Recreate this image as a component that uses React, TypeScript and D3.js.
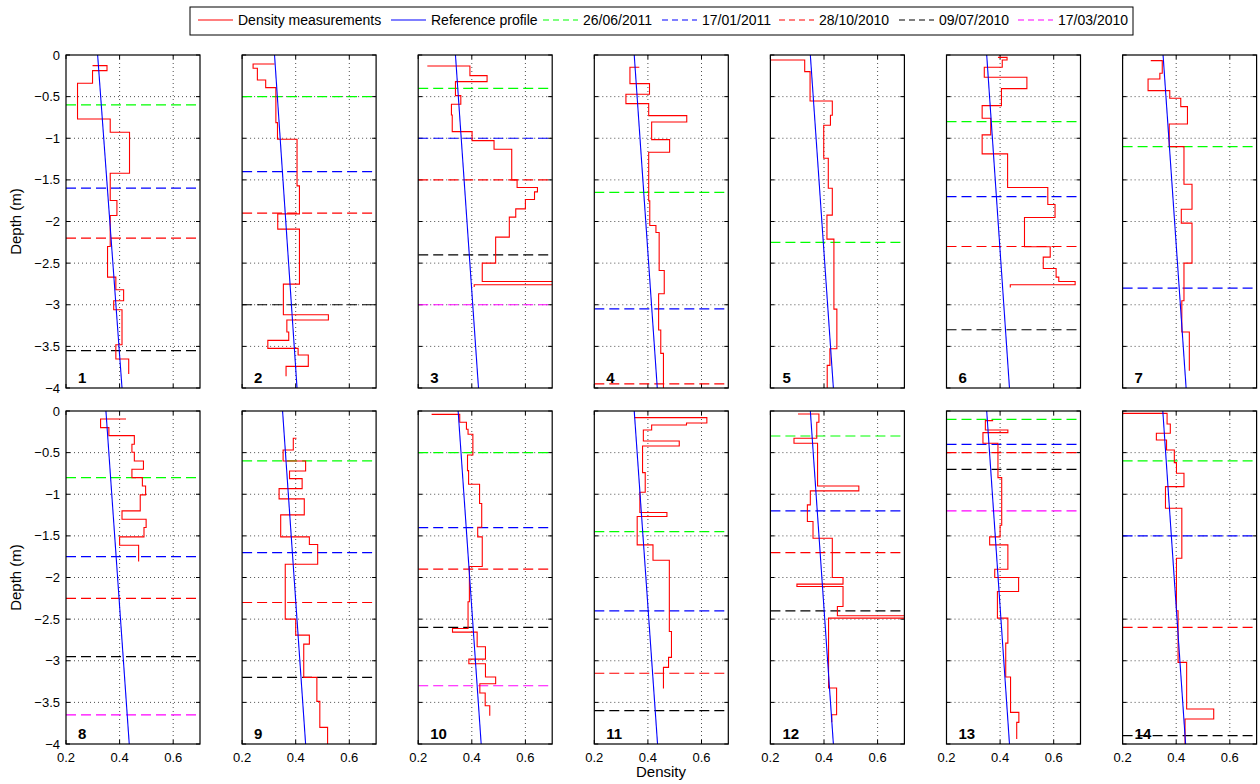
import React from "react";
import * as d3 from "d3";

// ---------- data ----------
const xTicks = [0.2, 0.4, 0.6];
const yTicks = [0, -0.5, -1, -1.5, -2, -2.5, -3, -3.5, -4];
const xDomain: [number, number] = [0.2, 0.7];
const yDomain: [number, number] = [-4, 0];
const panelNames = ["1", "2", "3", "4", "5", "6", "7", "8", "9", "10", "11", "12", "13", "14"];
const measLabel = "Density measurements";
const refLabel = "Reference profile";
const dateLabels = ["26/06/2011", "17/01/2011", "28/10/2010", "09/07/2010", "17/03/2010"];

// measured profiles: [density, depth] — first point is start, then [layer density, layer bottom]
const meas1: [number, number][] = [
  [0.299, -0.128], [0.353, -0.188], [0.299, -0.34], [0.243, -0.768], [0.365, -0.928],
  [0.437, -1.42], [0.365, -1.748], [0.39, -1.928], [0.365, -2.3], [0.355, -2.668],
  [0.386, -2.82], [0.415, -2.952], [0.378, -3.06], [0.409, -3.48], [0.386, -3.652], [0.434, -3.832],
];
const meas2: [number, number][] = [
  [0.321, -0.108], [0.241, -0.16], [0.257, -0.3], [0.288, -0.392], [0.326, -0.812],
  [0.332, -1.012], [0.405, -1.572], [0.414, -1.908], [0.333, -2.092], [0.414, -2.752],
  [0.354, -3.12], [0.522, -3.184], [0.367, -3.328], [0.374, -3.428], [0.296, -3.524],
  [0.409, -3.604], [0.447, -3.74], [0.364, -3.86],
];
const meas3: [number, number][] = [
  [0.234, -0.132], [0.393, -0.248], [0.457, -0.32], [0.339, -0.488], [0.359, -0.592],
  [0.324, -0.72], [0.327, -0.92], [0.401, -1.028], [0.483, -1.132], [0.549, -1.5],
  [0.569, -1.592], [0.645, -1.644], [0.634, -1.736], [0.6, -1.848], [0.564, -1.948],
  [0.54, -2.188], [0.489, -2.5], [0.439, -2.72], [0.78, -2.76], [0.409, -2.788],
];
const meas4: [number, number][] = [
  [0.368, -0.148], [0.333, -0.344], [0.406, -0.472], [0.318, -0.584], [0.403, -0.728],
  [0.545, -0.804], [0.414, -1.016], [0.481, -1.168], [0.403, -1.752], [0.407, -2.048],
  [0.43, -2.132], [0.442, -2.588], [0.461, -2.868], [0.44, -3.304], [0.448, -3.584], [0.458, -4.0],
];
const meas5: [number, number][] = [
  [0.19, -0.06], [0.328, -0.2], [0.348, -0.552], [0.431, -0.724], [0.424, -0.844],
  [0.399, -1.24], [0.416, -1.6], [0.431, -1.924], [0.411, -2.212], [0.437, -3.052],
  [0.448, -3.528], [0.422, -3.728], [0.412, -4.0],
];
const meas6: [number, number][] = [
  [0.392, -0.028], [0.426, -0.06], [0.408, -0.148], [0.341, -0.268], [0.5, -0.404],
  [0.405, -0.608], [0.333, -0.76], [0.365, -0.96], [0.333, -1.188], [0.428, -1.592],
  [0.578, -1.796], [0.605, -1.952], [0.491, -2.304], [0.587, -2.428], [0.561, -2.564],
  [0.609, -2.668], [0.619, -2.72], [0.68, -2.76], [0.438, -2.792],
];
const meas7: [number, number][] = [
  [0.305, -0.068], [0.348, -0.22], [0.339, -0.288], [0.295, -0.428], [0.376, -0.52],
  [0.417, -0.62], [0.442, -0.828], [0.374, -1.1], [0.429, -1.552], [0.459, -1.852],
  [0.419, -2.02], [0.459, -2.5], [0.429, -2.952], [0.421, -3.328], [0.449, -3.792],
];
const meas8: [number, number][] = [
  [0.424, -0.096], [0.329, -0.2], [0.36, -0.296], [0.455, -0.4], [0.446, -0.496],
  [0.455, -0.6], [0.489, -0.7], [0.446, -0.8], [0.485, -0.9], [0.497, -1.008],
  [0.477, -1.2], [0.409, -1.3], [0.499, -1.4], [0.491, -1.512], [0.4, -1.612], [0.471, -1.808],
];
const meas9: [number, number][] = [
  [0.403, -0.328], [0.391, -0.468], [0.353, -0.6], [0.437, -0.72], [0.377, -0.812],
  [0.424, -0.932], [0.338, -1.056], [0.432, -1.248], [0.344, -1.512], [0.451, -1.604],
  [0.482, -1.84], [0.361, -2.5], [0.4, -2.692], [0.451, -2.8], [0.43, -3.2],
  [0.479, -3.488], [0.49, -3.8], [0.519, -4.0],
];
const meas10: [number, number][] = [
  [0.25, -0.04], [0.355, -0.136], [0.38, -0.22], [0.386, -0.28], [0.404, -0.528],
  [0.384, -0.716], [0.388, -0.88], [0.429, -1.112], [0.437, -1.396], [0.422, -1.512],
  [0.439, -1.868], [0.391, -2.292], [0.386, -2.612], [0.328, -2.656], [0.42, -2.832],
  [0.451, -2.98], [0.389, -3.036], [0.451, -3.196], [0.489, -3.276], [0.43, -3.388],
  [0.45, -3.54], [0.467, -3.66],
];
const meas11: [number, number][] = [
  [0.349, -0.08], [0.62, -0.144], [0.544, -0.168], [0.414, -0.228], [0.383, -0.36],
  [0.517, -0.42], [0.38, -0.74], [0.39, -0.976], [0.37, -1.22], [0.471, -1.268],
  [0.36, -1.608], [0.419, -1.792], [0.48, -2.648], [0.488, -2.96], [0.477, -3.08], [0.458, -3.332],
];
const meas12: [number, number][] = [
  [0.303, -0.036], [0.381, -0.136], [0.373, -0.328], [0.288, -0.388], [0.376, -0.9],
  [0.53, -0.96], [0.349, -1.128], [0.338, -1.328], [0.359, -1.528], [0.431, -2.0],
  [0.471, -2.08], [0.299, -2.108], [0.471, -2.348], [0.45, -2.46], [0.78, -2.488],
  [0.417, -3.328], [0.447, -3.648], [0.429, -3.74],
];
const meas13: [number, number][] = [
  [0.374, -0.116], [0.345, -0.228], [0.429, -0.26], [0.336, -0.388], [0.392, -0.8],
  [0.406, -1.372], [0.4, -1.512], [0.361, -1.608], [0.429, -1.9], [0.38, -2.0],
  [0.469, -2.168], [0.39, -2.488], [0.429, -2.788], [0.421, -3.196], [0.439, -3.62],
  [0.47, -3.74], [0.462, -3.94],
];
const meas14: [number, number][] = [
  [0.19, -0.028], [0.366, -0.156], [0.378, -0.268], [0.326, -0.348], [0.364, -0.468],
  [0.393, -0.62], [0.401, -0.748], [0.429, -0.908], [0.36, -1.168], [0.421, -1.768],
  [0.401, -2.4], [0.407, -3.02], [0.439, -3.58], [0.54, -3.7], [0.433, -4.0],
];
const measurements = [meas1, meas2, meas3, meas4, meas5, meas6, meas7, meas8, meas9, meas10, meas11, meas12, meas13, meas14];

// reference profile: density at surface (0 m) and at -4 m
const refTop = [0.318, 0.321, 0.339, 0.349, 0.349, 0.35, 0.351, 0.349, 0.351, 0.349, 0.349, 0.349, 0.35, 0.35];
const refBottom = [0.409, 0.405, 0.425, 0.435, 0.435, 0.435, 0.437, 0.436, 0.437, 0.435, 0.436, 0.435, 0.435, 0.435];

// snow surface depth on each date, per panel (null = none)
const depth26062011 = [-0.6, -0.5, -0.4, -1.65, -2.25, -0.8, -1.1, -0.8, -0.6, -0.5, -1.45, -0.3, -0.1, -0.6];
const depth17012011 = [-1.6, -1.4, -1.0, -3.05, null, -1.7, -2.8, -1.75, -1.7, -1.4, -2.4, -1.2, -0.4, -1.5];
const depth28102010 = [-2.2, -1.9, -1.5, -3.95, null, -2.3, null, -2.25, -2.3, -1.9, -3.15, -1.7, -0.5, -2.6];
const depth09072010 = [-3.55, -3.0, -2.4, null, null, -3.3, null, -2.95, -3.2, -2.6, -3.6, -2.4, -0.7, -3.9];
const depth17032010 = [null, null, -3.0, null, null, null, null, -3.65, null, -3.3, null, null, -1.2, null];
const dateDepths = [depth26062011, depth17012011, depth28102010, depth09072010, depth17032010];

// ---------- style / layout ----------
const dateColors = ["#00ff00", "#0000ff", "#ff0000", "#000000", "#ff00ff"];
const FONT = "'Liberation Sans', Arial, Helvetica, sans-serif";
const colLeft0 = 66;
const colStep = 176.1;
const panelW = 134;
const rowTops = [55, 411];
const panelH = 333;
const dash = "10,5";

function Panel({ idx }: { idx: number }) {
  const col = idx % 7;
  const row = Math.floor(idx / 7);
  const left = colLeft0 + col * colStep;
  const top = rowTops[row];
  const x = d3.scaleLinear().domain(xDomain).range([left, left + panelW]);
  const y = d3.scaleLinear().domain(yDomain).range([top + panelH, top]);
  const stepLine = d3
    .line<[number, number]>()
    .x((d) => x(d[0]))
    .y((d) => y(d[1]))
    .curve(d3.curveStepAfter);
  const clipId = `clip${idx}`;
  const tickLen = 4;
  return (
    <g>
      <defs>
        <clipPath id={clipId}>
          <rect x={left} y={top} width={panelW} height={panelH} />
        </clipPath>
      </defs>
      <rect x={left} y={top} width={panelW} height={panelH} fill="#fff" />
      {/* grid */}
      {xTicks
        .filter((t) => t > xDomain[0] && t < xDomain[1])
        .map((t) => (
          <line key={"gx" + t} x1={x(t)} x2={x(t)} y1={top} y2={top + panelH} stroke="#222" strokeWidth={0.8} strokeDasharray="1,3" />
        ))}
      {yTicks
        .filter((t) => t > yDomain[0] && t < yDomain[1])
        .map((t) => (
          <line key={"gy" + t} x1={left} x2={left + panelW} y1={y(t)} y2={y(t)} stroke="#222" strokeWidth={0.8} strokeDasharray="1,3" />
        ))}
      {/* ticks */}
      {yTicks.map((t) => (
        <g key={"ty" + t}>
          <line x1={left} x2={left + tickLen} y1={y(t)} y2={y(t)} stroke="#000" />
          <line x1={left + panelW - tickLen} x2={left + panelW} y1={y(t)} y2={y(t)} stroke="#000" />
        </g>
      ))}
      {xTicks.map((t) => (
        <g key={"tx" + t}>
          <line x1={x(t)} x2={x(t)} y1={top} y2={top + tickLen} stroke="#000" />
          <line x1={x(t)} x2={x(t)} y1={top + panelH - tickLen} y2={top + panelH} stroke="#000" />
        </g>
      ))}
      <g clipPath={`url(#${clipId})`}>
        {dateDepths.map((arr, k) => {
          const v = arr[idx];
          if (v === null || v === undefined) return null;
          return (
            <line key={"d" + k} x1={left} x2={left + panelW} y1={y(v)} y2={y(v)} stroke={dateColors[k]} strokeWidth={1.2} strokeDasharray={dash} />
          );
        })}
        <path d={stepLine(measurements[idx]) || ""} fill="none" stroke="#ff0000" strokeWidth={1.1} />
        <line x1={x(refTop[idx])} y1={y(0)} x2={x(refBottom[idx])} y2={y(-4)} stroke="#0000ff" strokeWidth={1.1} />
      </g>
      <rect x={left} y={top} width={panelW} height={panelH} fill="none" stroke="#000" strokeWidth={1.2} />
      <text x={left + 12} y={top + panelH - 5} fontSize={15} fontWeight="bold" fontFamily={FONT} fill="#000">
        {panelNames[idx]}
      </text>
      {col === 0 &&
        yTicks.map((t) => (
          <text key={"ly" + t} x={left - 6} y={y(t)} dy="0.35em" textAnchor="end" fontSize={13} fontFamily={FONT}>
            {t === 0 ? "0" : "\u2212" + Math.abs(t)}
          </text>
        ))}
      {row === 1 &&
        xTicks.map((t) => (
          <text key={"lx" + t} x={x(t)} y={top + panelH + 18} textAnchor="middle" fontSize={13} fontFamily={FONT}>
            {t.toFixed(1)}
          </text>
        ))}
      {col === 0 && (
        <text
          transform={`translate(${left - 45},${top + panelH / 2}) rotate(-90)`}
          textAnchor="middle"
          fontSize={15}
          fontFamily={FONT}
        >
          Depth (m)
        </text>
      )}
    </g>
  );
}

function Legend() {
  const items = [
    { label: measLabel, color: "#ff0000", dashed: false, x0: 198 },
    { label: refLabel, color: "#0000ff", dashed: false, x0: 391 },
    ...dateLabels.map((l, i) => ({ label: l, color: dateColors[i], dashed: true, x0: [543, 662, 779, 899, 1018][i] })),
  ];
  const cy = 20;
  return (
    <g>
      <rect x={190} y={7} width={943} height={28} fill="#fff" stroke="#000" strokeWidth={1} />
      {items.map((it) => (
        <g key={it.label}>
          <line x1={it.x0} x2={it.x0 + 35} y1={cy} y2={cy} stroke={it.color} strokeWidth={1.2} strokeDasharray={it.dashed ? "6,4" : undefined} />
          <text x={it.x0 + 40} y={cy} dy="0.35em" fontSize={14} fontFamily={FONT}>
            {it.label}
          </text>
        </g>
      ))}
    </g>
  );
}

export default function App() {
  return (
    <svg width={1260} height={784} style={{ position: "absolute", left: 0, top: 0, background: "#fff" }}>
      <rect x={0} y={0} width={1260} height={784} fill="#fff" />
      {measurements.map((_, i) => (
        <Panel key={i} idx={i} />
      ))}
      <text x={661} y={777} textAnchor="middle" fontSize={15} fontFamily={FONT}>
        Density
      </text>
      <Legend />
    </svg>
  );
}
